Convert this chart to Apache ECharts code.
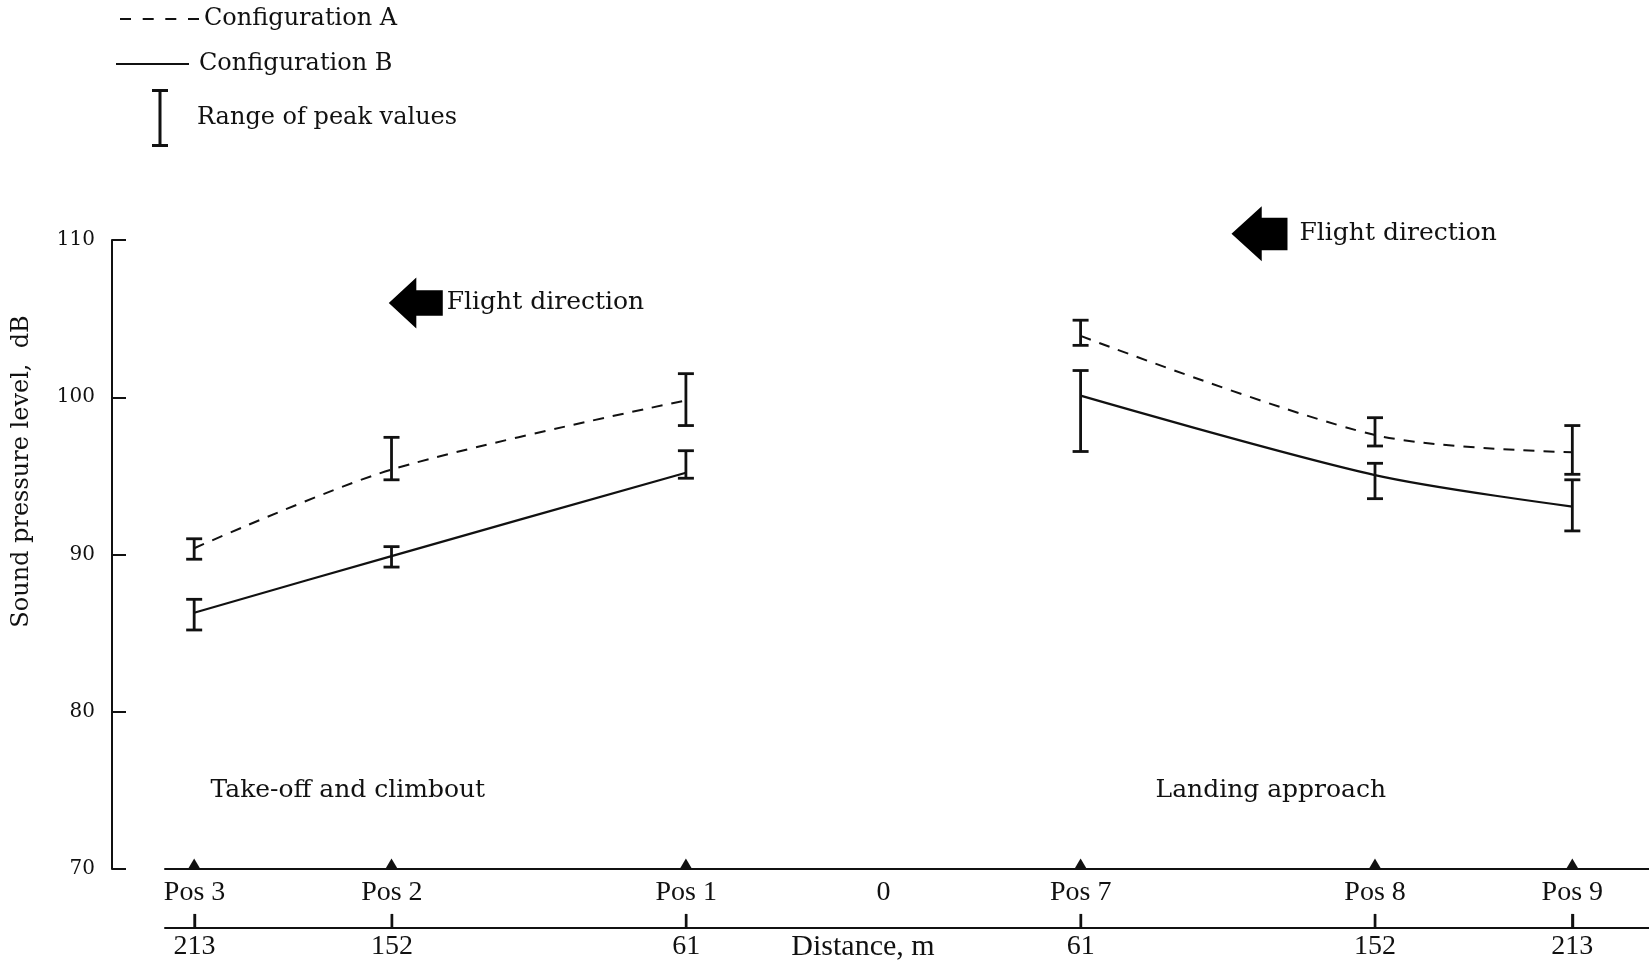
<!DOCTYPE html>
<html>
<head>
<meta charset="utf-8">
<title>Sound pressure level</title>
<script src="https://cdn.jsdelivr.net/npm/echarts@6/dist/echarts.min.js"></script>
<style>
  html, body { margin: 0; padding: 0; background: #ffffff; }
  #chart { width: 1649px; height: 967px; }
</style>
</head>
<body>
<div id="chart"></div>
<script>
// Measuring positions: distance from point 0 in metres (take-off side negative)
const distances = [-213, -152, -61, 61, 152, 213];
const positionNames = ['Pos 3', 'Pos 2', 'Pos 1', 'Pos 7', 'Pos 8', 'Pos 9'];

// Mean peak sound pressure level, dB
const configA = [90.4, 95.4, 99.8, 103.9, 97.6, 96.5];
const configB = [86.3, 89.9, 95.2, 100.1, 95.05, 93.05];

// Range of peak values [low, high], dB
const rangeA = [[89.7, 91.0], [94.75, 97.45], [98.2, 101.5], [103.3, 104.9], [96.9, 98.7], [95.1, 98.2]];
const rangeB = [[85.2, 87.15], [89.2, 90.5], [94.85, 96.6], [96.55, 101.7], [93.55, 95.8], [91.5, 94.75]];

// Axis labels
const yTicks = [70, 80, 90, 100, 110];
const positionTicks = [-213, -152, -61, 0, 61, 152, 213];
const distanceTicks = [-213, -152, -61, 61, 152, 213];

const INK = '#111111';
const SERIF = 'DejaVu Serif';
const NARROW = 'Liberation Serif';

// Line data with a break between the take-off and landing sides
function lineData(values) {
  const out = [];
  distances.forEach(function (d, i) {
    if (i === 3) out.push([0, null]);
    out.push([d, values[i]]);
  });
  return out;
}

function rangeData() {
  const out = [];
  [rangeA, rangeB].forEach(function (r) {
    r.forEach(function (lh, i) { out.push([distances[i], lh[0], lh[1]]); });
  });
  return out;
}

function positionLabel(v) {
  const i = distances.indexOf(v);
  return i >= 0 ? positionNames[i] : String(v);
}

const chart = echarts.init(document.getElementById('chart'), null, { renderer: 'canvas' });

const legendText = { fontFamily: SERIF, fontSize: 24, color: INK };

const option = {
  backgroundColor: '#ffffff',
  animation: false,
  textStyle: { fontFamily: SERIF, color: INK },
  legend: [
    {
      data: [{ name: 'Configuration A', icon: 'path://M0,0H11V2H0Z M22.7,0H33.7V2H22.7Z M45.3,0H56.3V2H45.3Z M68,0H79V2H68Z' }],
      left: 120, top: 7, padding: 0,
      itemWidth: 79, itemHeight: 2, selectedMode: false,
      textStyle: legendText
    },
    {
      data: [{ name: 'Configuration B', icon: 'path://M0,0H73V2H0Z' }],
      left: 116, top: 52, padding: 0,
      itemWidth: 73, itemHeight: 2, selectedMode: false,
      textStyle: Object.assign({ padding: [0, 0, 0, 5] }, legendText)
    },
    {
      data: [{ name: 'Range of peak values', icon: 'path://M0,0H16V3H9.5V55H16V58H0V55H6.5V3H0Z' }],
      left: 152, top: 89, padding: 0,
      itemWidth: 16, itemHeight: 58, selectedMode: false,
      textStyle: Object.assign({ padding: [0, 0, 0, 24] }, legendText)
    }
  ],
  grid: [
    { left: 112, right: 0, top: 240, bottom: 98, outerBoundsMode: 'none' },
    { left: 165, right: 0, top: 869, height: 59, outerBoundsMode: 'none' }
  ],
  xAxis: [
    { gridIndex: 0, type: 'value', min: -238.4, max: 236.7, show: false },
    {
      // ground line with the position names
      gridIndex: 1, type: 'value', position: 'top', min: -222.15, max: 236.7,
      axisLine: { show: true, onZero: false, lineStyle: { color: INK, width: 2 } },
      axisTick: { show: false },
      splitLine: { show: false },
      axisLabel: {
        inside: true, margin: 10, customValues: positionTicks,
        formatter: function (v) { return v === 0 ? '0' : positionLabel(v); },
        fontFamily: NARROW, fontSize: 28, color: INK
      }
    },
    {
      // distance scale
      gridIndex: 1, type: 'value', position: 'bottom', min: -222.15, max: 236.7,
      axisLine: { show: true, onZero: false, lineStyle: { color: INK, width: 2 } },
      axisTick: { show: true, inside: true, length: 14, customValues: distanceTicks, lineStyle: { color: INK, width: 2.4 } },
      splitLine: { show: false },
      axisLabel: {
        margin: 5, customValues: distanceTicks,
        formatter: function (v) { return String(Math.abs(v)); },
        fontFamily: NARROW, fontSize: 28, color: INK
      },
      name: 'Distance, m', nameLocation: 'middle', nameGap: 4, nameMoveOverlap: false,
      nameTextStyle: { fontFamily: NARROW, fontSize: 30, color: INK, padding: [0, 88, 0, 0] }
    }
  ],
  yAxis: [
    {
      gridIndex: 0, type: 'value', min: 70, max: 110, interval: 10,
      axisLine: { show: true, onZero: false, lineStyle: { color: INK, width: 2 } },
      axisTick: { show: true, inside: true, length: 14, lineStyle: { color: INK, width: 2 } },
      splitLine: { show: false },
      axisLabel: {
        margin: 17, fontFamily: SERIF, fontSize: 20, color: INK,
        customValues: yTicks
      },
      name: 'Sound pressure level,  dB', nameLocation: 'middle', nameGap: 78,
      nameTextStyle: { fontFamily: SERIF, fontSize: 24, color: INK, padding: [0, 0, 0, 166] }
    },
    { gridIndex: 1, type: 'value', min: 0, max: 1, show: false }
  ],
  series: [
    {
      name: 'Configuration A', type: 'line', xAxisIndex: 0, yAxisIndex: 0,
      data: lineData(configA), symbol: 'none', smooth: 0.3, connectNulls: false,
      lineStyle: { color: INK, width: 2, type: [11, 9] }, itemStyle: { color: INK }, z: 3
    },
    {
      name: 'Configuration B', type: 'line', xAxisIndex: 0, yAxisIndex: 0,
      data: lineData(configB), symbol: 'none', smooth: 0.3, connectNulls: false,
      lineStyle: { color: INK, width: 2.2, type: 'solid' }, itemStyle: { color: INK }, z: 3
    },
    {
      name: 'Range of peak values', type: 'custom', xAxisIndex: 0, yAxisIndex: 0,
      data: rangeData(), encode: { x: 0, y: [1, 2] },
      itemStyle: { color: INK }, z: 4,
      renderItem: function (params, api) {
        const x = api.value(0);
        const top = api.coord([x, api.value(2)]);
        const bot = api.coord([x, api.value(1)]);
        const half = 8;
        const style = { stroke: INK, lineWidth: 2.8 };
        return {
          type: 'group',
          children: [
            { type: 'line', shape: { x1: top[0], y1: top[1], x2: bot[0], y2: bot[1] }, style: style },
            { type: 'line', shape: { x1: top[0] - half, y1: top[1], x2: top[0] + half, y2: top[1] }, style: style },
            { type: 'line', shape: { x1: bot[0] - half, y1: bot[1], x2: bot[0] + half, y2: bot[1] }, style: style }
          ]
        };
      }
    },
    {
      // microphone position markers on the ground line
      name: 'positions', type: 'scatter', xAxisIndex: 0, yAxisIndex: 0,
      data: distances.map(function (d) { return [d, 70]; }),
      symbol: 'triangle', symbolSize: [13, 11], symbolOffset: [0, -5],
      itemStyle: { color: INK, opacity: 1 }, clip: false, silent: true, z: 5
    },
    {
      // upward tick marks standing on the distance scale
      name: 'distance ticks', type: 'scatter', xAxisIndex: 1, yAxisIndex: 1,
      data: distanceTicks.map(function (d) { return [d, 0.12]; }),
      symbol: 'rect', symbolSize: [2.4, 14],
      itemStyle: { color: INK, opacity: 1 }, clip: false, silent: true, z: 10
    },
    {
      // flight direction arrows and flight phase captions
      name: 'annotations', type: 'scatter', xAxisIndex: 0, yAxisIndex: 0,
      clip: false, silent: true, z: 5,
      itemStyle: { color: '#000000', opacity: 1 },
      label: { show: true, color: INK, fontFamily: SERIF, fontSize: 25 },
      data: [
        {
          value: [-144.5, 106.0],
          symbol: 'path://M0,50L51,0V25H100V75H51V100Z', symbolSize: [54, 51],
          label: { position: 'right', distance: 4, formatter: 'Flight direction' }
        },
        {
          value: [116.3, 110.4],
          symbol: 'path://M0,50L54,0V21H100V80H54V100Z', symbolSize: [56, 55],
          label: { position: 'right', distance: 12, formatter: 'Flight direction' }
        },
        {
          value: [-165.5, 75.0], symbolSize: 0,
          label: { position: 'inside', formatter: 'Take-off and climbout' }
        },
        {
          value: [119.8, 75.0], symbolSize: 0,
          label: { position: 'inside', formatter: 'Landing approach' }
        }
      ]
    }
  ]
};

chart.setOption(option);
</script>
</body>
</html>
